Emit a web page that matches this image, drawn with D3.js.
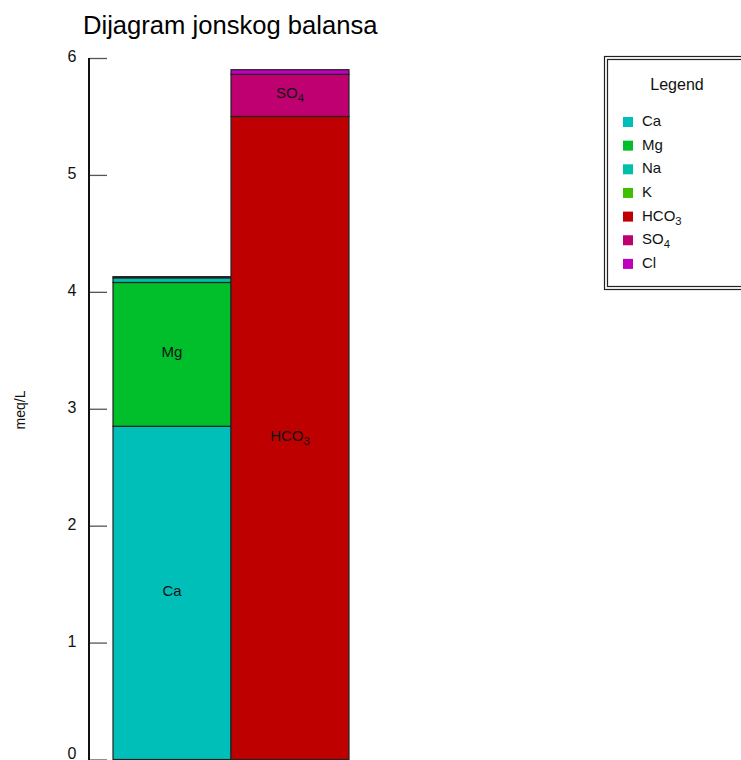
<!DOCTYPE html>
<html lang="en">
<head>
<meta charset="UTF-8">
<title>Dijagram jonskog balansa</title>
<script src="https://d3js.org/d3.v7.min.js"></script>
<style>
  body { margin: 0; background: #fff; }
  text { font-family: "Liberation Sans", Arial, sans-serif; }
</style>
</head>
<body>
<script>
    // data
    var columns = ["cations", "anions"];
    var cationKeys = ["Ca", "Mg", "Na", "K"];
    var cationValues = [2.85, 1.23, 0.04, 0.01];
    var anionKeys = ["HCO3", "SO4", "Cl"];
    var anionValues = [5.50, 0.36, 0.04];
    var legendKeys = ["Ca", "Mg", "Na", "K", "HCO3", "SO4", "Cl"];
    var legendColors = ["#00bfb8", "#00bf2a", "#00bfa8", "#3fbf00", "#bf0000", "#bf0070", "#bf00bf"];
    var yTicks = [0, 1, 2, 3, 4, 5, 6];
    var labelled = ["Ca", "Mg", "HCO3", "SO4"];

    var w = 741, h = 760;

    var svg = d3.select("body").append("svg")
        .attr("width", w)
        .attr("height", h);

    var color = d3.scaleOrdinal().domain(legendKeys).range(legendColors);

    var xScale = d3.scaleBand()
        .domain(columns)
        .range([113, 349])
        .padding(0);

    var yScale = d3.scaleLinear()
        .domain([0, 6])
        .range([759.5, 58]);

    // stack each column
    function stackCol(keys, values) {
        var row = {};
        keys.forEach(function(k, i) { row[k] = values[i]; });
        return d3.stack().keys(keys)([row]).map(function(s) {
            return { key: s.key, y0: s[0][0], y1: s[0][1] };
        });
    }
    var segs = [];
    stackCol(cationKeys, cationValues).forEach(function(d) { d.col = "cations"; segs.push(d); });
    stackCol(anionKeys, anionValues).forEach(function(d) { d.col = "anions"; segs.push(d); });

    svg.selectAll("rect.seg")
        .data(segs)
        .enter()
        .append("rect")
        .attr("class", "seg")
        .attr("x", function(d) { return xScale(d.col); })
        .attr("y", function(d) { return yScale(d.y1); })
        .attr("width", xScale.bandwidth())
        .attr("height", function(d) { return yScale(d.y0) - yScale(d.y1); })
        .attr("fill", function(d) { return color(d.key); })
        .attr("stroke", "#222")
        .attr("stroke-width", 1.2);

    // label with subscript digit
    function ionText(sel, name) {
        var m = name.match(/^([A-Za-z]+?)(\d)$/);
        if (m) {
            sel.append("tspan").text(m[1]);
            sel.append("tspan").attr("dy", 4).attr("font-size", "0.75em").text(m[2]);
        } else {
            sel.text(name);
        }
    }

    svg.selectAll("text.seglab")
        .data(segs.filter(function(d) { return labelled.indexOf(d.key) >= 0; }))
        .enter()
        .append("text")
        .attr("class", "seglab")
        .attr("x", function(d) { return xScale(d.col) + xScale.bandwidth() / 2; })
        .attr("y", function(d) { return yScale((d.y0 + d.y1) / 2) + 3; })
        .attr("text-anchor", "middle")
        .attr("font-size", 15)
        .attr("fill", "#111")
        .each(function(d) { ionText(d3.select(this), d.key); });

    // y axis
    var axis = d3.axisRight(yScale).tickValues(yTicks).tickSize(18).tickFormat("");
    var ag = svg.append("g").attr("transform", "translate(89,0)").call(axis);
    ag.select(".domain").remove();
    ag.selectAll(".tick line").attr("stroke", "#555").attr("stroke-width", 1.3);
    svg.append("line")
        .attr("x1", 89).attr("x2", 89)
        .attr("y1", yScale(6)).attr("y2", h)
        .attr("stroke", "#111").attr("stroke-width", 2);

    svg.selectAll("text.ytick")
        .data(yTicks)
        .enter()
        .append("text")
        .attr("class", "ytick")
        .attr("x", 72)
        .attr("y", function(d) { return Math.min(yScale(d) + 4, h - 1); })
        .attr("text-anchor", "middle")
        .attr("font-size", 16)
        .attr("fill", "#111")
        .text(function(d) { return d; });

    svg.append("text")
        .attr("transform", "translate(25,410) rotate(-90)")
        .attr("text-anchor", "middle")
        .attr("font-size", 14)
        .attr("fill", "#111")
        .text("meq/L");

    // title
    svg.append("text")
        .attr("x", 83)
        .attr("y", 34)
        .attr("font-size", 25.6)
        .attr("fill", "#000")
        .text("Dijagram jonskog balansa");

    // legend
    var lg = svg.append("g");
    lg.append("rect")
        .attr("x", 604.5).attr("y", 56.5).attr("width", 160).attr("height", 233)
        .attr("fill", "none").attr("stroke", "#222").attr("stroke-width", 1.2);
    lg.append("rect")
        .attr("x", 607.5).attr("y", 59.5).attr("width", 160).attr("height", 227)
        .attr("fill", "none").attr("stroke", "#222").attr("stroke-width", 1.2);
    lg.append("text")
        .attr("x", 677).attr("y", 90)
        .attr("text-anchor", "middle")
        .attr("font-size", 16)
        .attr("fill", "#111")
        .text("Legend");

    var items = lg.selectAll("g.item")
        .data(legendKeys)
        .enter()
        .append("g")
        .attr("class", "item")
        .attr("transform", function(d, i) { return "translate(0," + (120 + i * 23.65) + ")"; });
    items.append("rect")
        .attr("x", 623).attr("y", -3).attr("width", 10).attr("height", 10)
        .attr("fill", function(d) { return color(d); });
    items.append("text")
        .attr("x", 642).attr("y", 6)
        .attr("font-size", 15)
        .attr("fill", "#111")
        .each(function(d) { ionText(d3.select(this), d); });
</script>
</body>
</html>
